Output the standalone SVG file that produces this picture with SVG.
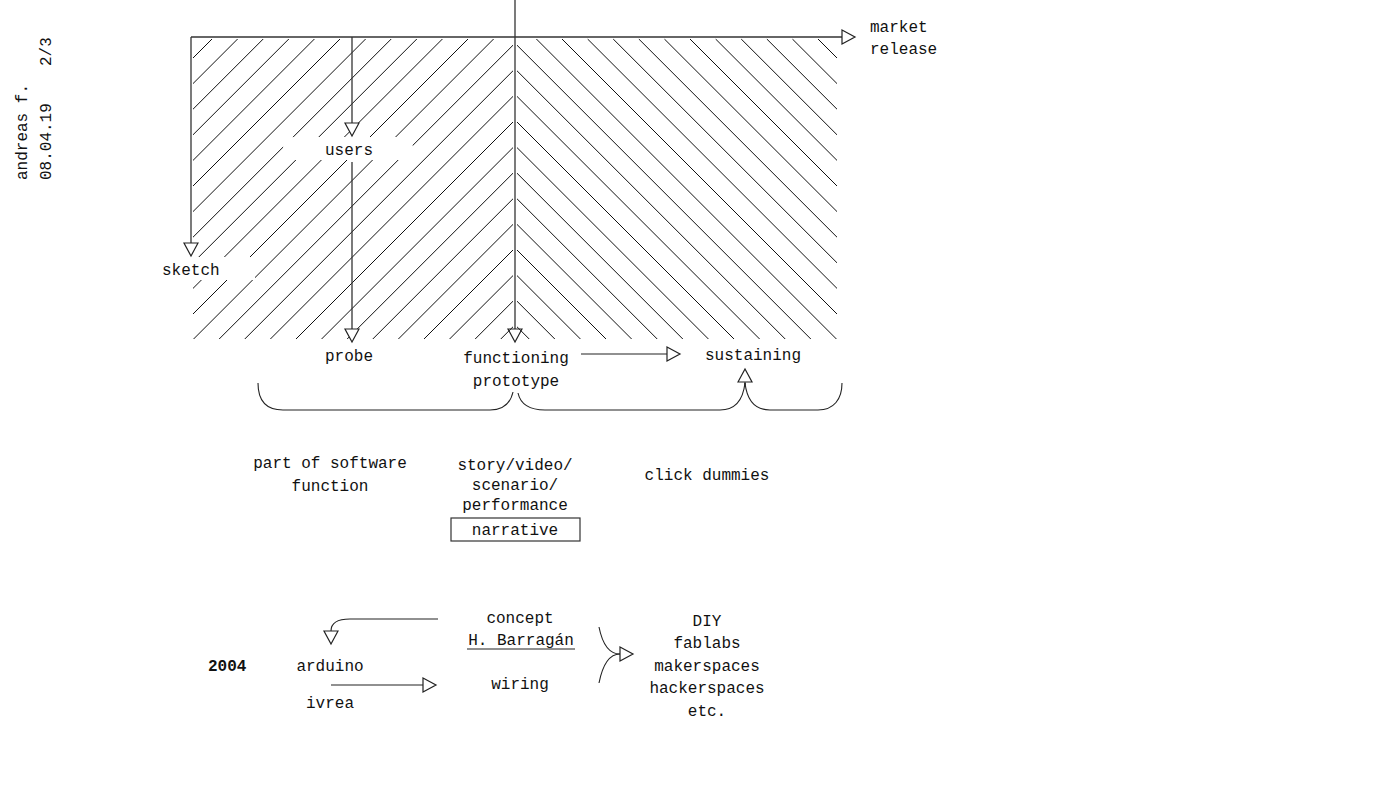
<svg xmlns="http://www.w3.org/2000/svg" xmlns:xlink="http://www.w3.org/1999/xlink" width="1400" height="787" viewBox="0 0 1400 787">
<style>
  text { font-family: "Liberation Mono", "Courier New", monospace; font-size: 16px; fill: #111; }
  .c { text-anchor: middle; }
  .hatch { stroke: #111; stroke-width: 1; fill: none; }
  .ln { stroke: #333; stroke-width: 1.3; fill: none; }
  .thin { stroke: #222; stroke-width: 1.1; fill: none; }
</style>
<defs>
  <clipPath id="clipL"><rect x="193" y="38.5" width="320" height="301"/></clipPath>
  <marker id="tri" markerUnits="userSpaceOnUse" markerWidth="16" markerHeight="16" refX="0" refY="7" orient="auto" overflow="visible">
    <path d="M0,0 L13,7 L0,14 Z" fill="#fff" stroke="#222" stroke-width="1.2"/>
  </marker>
  <marker id="triO" markerUnits="userSpaceOnUse" markerWidth="16" markerHeight="16" refX="0" refY="7" orient="auto" overflow="visible">
    <path d="M0,0 L13,7 L0,14 Z" fill="none" stroke="#222" stroke-width="1.2"/>
  </marker>
  <g id="hatchL" clip-path="url(#clipL)">
    <path class="hatch" d="M-88 339L212 39M-62.4 339L237.6 39M-36.8 339L263.2 39M-11.2 339L288.8 39M14.4 339L314.4 39M40 339L340 39M65.6 339L365.6 39M91.2 339L391.2 39M116.8 339L416.8 39M142.4 339L442.4 39M168 339L468 39M193.6 339L493.6 39M219.2 339L519.2 39M244.8 339L544.8 39M270.4 339L570.4 39M296 339L596 39M321.6 339L621.6 39M347.2 339L647.2 39M372.8 339L672.8 39M398.4 339L698.4 39M424 339L724 39M449.6 339L749.6 39M475.2 339L775.2 39M500.8 339L800.8 39"/>
  </g>
</defs>

<g id="hatching">
  <use xlink:href="#hatchL" href="#hatchL"/>
  <use xlink:href="#hatchL" href="#hatchL" transform="translate(1030,0) scale(-1,1)"/>
  <rect x="150" y="257" width="105" height="23" fill="#fff"/>
  <rect x="283" y="137" width="130" height="23" rx="10" fill="#fff"/>
</g>

<g id="meta">
  <text transform="translate(27,180) rotate(-90)">andreas f.</text>
  <text transform="translate(51,180) rotate(-90)">08.04.19</text>
  <text transform="translate(51,66) rotate(-90)">2/3</text>
</g>

<g id="connectors">
  <path class="ln" d="M191 37 H842" marker-end="url(#tri)"/>
  <path class="ln" d="M191 37 V243" marker-end="url(#tri)"/>
  <path class="ln" d="M352 37 V123" marker-end="url(#tri)"/>
  <path class="ln" d="M352 162 V329" marker-end="url(#tri)"/>
  <path class="ln" d="M515 0 V329" marker-end="url(#triO)"/>
  <path class="thin" d="M581 354 H667" marker-end="url(#tri)"/>
  <path class="thin" d="M745 385 V382" marker-end="url(#tri)"/>
  <path class="thin" d="M258 383 C258 400 265 410 283 410 H490 C505 410 511 401 513 392"/>
  <path class="thin" d="M518 393 C520 402 527 410 545 410 H720 C736 410 743 400 745 383"/>
  <path class="thin" d="M745 383 C747 400 754 410 770 410 H818 C834 410 842 399 842 383"/>
  <path class="thin" d="M438 619 H350 Q331 619 331 631" marker-end="url(#tri)"/>
  <path class="thin" d="M331 685 H423" marker-end="url(#tri)"/>
  <path class="thin" d="M599 627 C602 642 608 654 620 654" marker-end="url(#tri)"/>
  <path class="thin" d="M599 683 C602 668 608 654 620 654"/>
</g>

<g id="n-market"><text x="870" y="32">market</text><text x="870" y="54">release</text></g>
<g id="n-users"><text class="c" x="349" y="155">users</text></g>
<g id="n-sketch"><text x="162" y="275">sketch</text></g>
<g id="n-probe"><text class="c" x="349" y="361">probe</text></g>
<g id="n-functioning"><text class="c" x="516" y="363">functioning</text><text class="c" x="516" y="386">prototype</text></g>
<g id="n-sustaining"><text class="c" x="753" y="360">sustaining</text></g>
<g id="n-software"><text class="c" x="330" y="468">part of software</text><text class="c" x="330" y="491">function</text></g>
<g id="n-story"><text class="c" x="515" y="470">story/video/</text><text class="c" x="515" y="490">scenario/</text><text class="c" x="515" y="510">performance</text></g>
<g id="n-narrative"><rect x="451" y="518" width="129" height="23" fill="none" stroke="#333" stroke-width="1.2"/><text class="c" x="515" y="535">narrative</text></g>
<g id="n-click"><text class="c" x="707" y="480">click dummies</text></g>
<g id="n-2004"><text x="208" y="671" font-weight="bold">2004</text></g>
<g id="n-arduino"><text class="c" x="330" y="671">arduino</text><text class="c" x="330" y="708">ivrea</text></g>
<g id="n-concept"><text class="c" x="520" y="623">concept</text><text class="c" x="521" y="645">H. Barragán</text><line x1="467" y1="649" x2="575" y2="649" stroke="#222" stroke-width="1.1"/></g>
<g id="n-wiring"><text class="c" x="520" y="689">wiring</text></g>
<g id="n-diy"><text class="c" x="707" y="626">DIY</text><text class="c" x="707" y="648">fablabs</text><text class="c" x="707" y="671">makerspaces</text><text class="c" x="707" y="693">hackerspaces</text><text class="c" x="707" y="716">etc.</text></g>
</svg>
